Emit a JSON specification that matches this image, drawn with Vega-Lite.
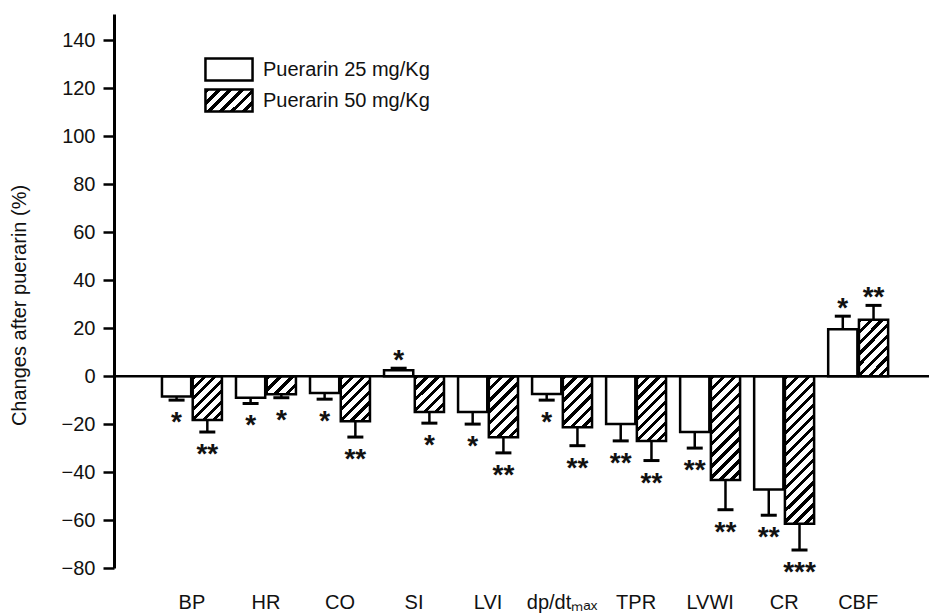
{
"$schema": "https://vega.github.io/schema/vega-lite/v6.json",
"width": 815, "height": 554,
"autosize": {"type": "none"},
"padding": {"left": 114, "top": 14, "right": 0, "bottom": 45},
"background": "white",
"config": {
  "view": {"stroke": null},
  "font": "Liberation Sans",
  "axis": {"labelFont": "Liberation Sans", "labelColor": "#111", "titleFont": "Liberation Sans", "titleFontSize": 20, "titleFontWeight": "normal", "titleColor": "#111", "grid": false},
  "axisY": {"domainColor": "#000", "domainWidth": 3, "tickColor": "#000", "tickWidth": 2.5, "tickSize": 11, "labelPadding": 8, "labelFontSize": 20, "titleX": -85, "titleY": 291},
  "axisX": {"domain": false, "ticks": false, "tickSize": 0, "labelAngle": 0, "labelPadding": 24, "labelBaseline": "top", "labelFontSize": 20},
  "legend": {"symbolType": "M-2.14,-1H2.14V1H-2.14Z", "symbolSize": 484, "symbolStrokeColor": "#000", "symbolStrokeWidth": 2.5, "labelFont": "Liberation Sans", "labelFontSize": 20, "labelColor": "#111", "labelOffset": 21.5, "labelLimit": 400, "padding": 0}
},
"data": {"values": [
{"cat":"BP","dose":"Puerarin 25 mg/Kg","value":-8.5,"err":-10,"sig":"*"},
{"cat":"BP","dose":"Puerarin 50 mg/Kg","value":-18.3,"err":-23.3,"sig":"**"},
{"cat":"HR","dose":"Puerarin 25 mg/Kg","value":-9,"err":-11.4,"sig":"*"},
{"cat":"HR","dose":"Puerarin 50 mg/Kg","value":-7.5,"err":-9,"sig":"*"},
{"cat":"CO","dose":"Puerarin 25 mg/Kg","value":-7,"err":-9.6,"sig":"*"},
{"cat":"CO","dose":"Puerarin 50 mg/Kg","value":-18.8,"err":-25.4,"sig":"**"},
{"cat":"SI","dose":"Puerarin 25 mg/Kg","value":2.5,"err":3.3,"sig":"*"},
{"cat":"SI","dose":"Puerarin 50 mg/Kg","value":-15,"err":-19.6,"sig":"*"},
{"cat":"LVI","dose":"Puerarin 25 mg/Kg","value":-15,"err":-20,"sig":"*"},
{"cat":"LVI","dose":"Puerarin 50 mg/Kg","value":-25.5,"err":-32,"sig":"**"},
{"cat":"dp/dtₘₐₓ","dose":"Puerarin 25 mg/Kg","value":-7.4,"err":-10,"sig":"*"},
{"cat":"dp/dtₘₐₓ","dose":"Puerarin 50 mg/Kg","value":-21.3,"err":-29,"sig":"**"},
{"cat":"TPR","dose":"Puerarin 25 mg/Kg","value":-20,"err":-27,"sig":"**"},
{"cat":"TPR","dose":"Puerarin 50 mg/Kg","value":-27,"err":-35.2,"sig":"**"},
{"cat":"LVWI","dose":"Puerarin 25 mg/Kg","value":-23.3,"err":-30,"sig":"**"},
{"cat":"LVWI","dose":"Puerarin 50 mg/Kg","value":-43.3,"err":-55.7,"sig":"**"},
{"cat":"CR","dose":"Puerarin 25 mg/Kg","value":-47.3,"err":-58,"sig":"**"},
{"cat":"CR","dose":"Puerarin 50 mg/Kg","value":-61.5,"err":-72.5,"sig":"***"},
{"cat":"CBF","dose":"Puerarin 25 mg/Kg","value":19.5,"err":25,"sig":"*"},
{"cat":"CBF","dose":"Puerarin 50 mg/Kg","value":23.5,"err":29.5,"sig":"**"}
]},
"layer": [
{
  "mark": {"type": "bar", "stroke": "#000", "strokeWidth": 2.5},
  "encoding": {
    "x": {"field": "cat", "type": "nominal", "sort": null, "title": null,
      "scale": {"paddingInner": 0.19, "paddingOuter": 0.6, "align": 0.54},
      "axis": {"title": null, "labelAngle": 0, "labelFontSize": 20}},
    "xOffset": {"field": "dose", "type": "nominal", "sort": null, "scale": {"paddingInner": 0.05, "paddingOuter": 0}},
    "y": {"field": "value", "type": "quantitative", "title": "Changes after puerarin (%)", "scale": {"domain": [-80, 151], "nice": false},
      "axis": {"title": "Changes after puerarin (%)", "labelFontSize": 20, "values": [-80,-60,-40,-20,0,20,40,60,80,100,120,140]}},
    "stroke": {"field": "dose", "type": "nominal", "sort": null,
      "scale": {"domain": ["Puerarin 50 mg/Kg", "Puerarin 25 mg/Kg"], "range": ["#000", "#000"]},
      "legend": {"title": null, "orient": "none", "legendX": 102.5, "legendY": 74, "values": ["Puerarin 50 mg/Kg"]}},
    "fill": {"field": "dose", "type": "nominal", "sort": null,
      "scale": {"domain": ["Puerarin 25 mg/Kg", "Puerarin 50 mg/Kg"], "range": ["white", "black"]},
      "legend": {"title": null, "orient": "none", "legendX": 102.5, "legendY": 43, "values": ["Puerarin 25 mg/Kg"]},
      "condition": [
        {"test": "datum.value==='Puerarin 50 mg/Kg'", "value": {"gradient":"linear","x1":0,"y1":0,"x2":1.204,"y2":0.564,"stops":[{"offset":0,"color":"#000"},{"offset":0.0667,"color":"#000"},{"offset":0.0667,"color":"#fff"},{"offset":0.1667,"color":"#fff"},{"offset":0.1667,"color":"#000"},{"offset":0.2333,"color":"#000"},{"offset":0.2333,"color":"#fff"},{"offset":0.3333,"color":"#fff"},{"offset":0.3333,"color":"#000"},{"offset":0.4,"color":"#000"},{"offset":0.4,"color":"#fff"},{"offset":0.5,"color":"#fff"},{"offset":0.5,"color":"#000"},{"offset":0.5667,"color":"#000"},{"offset":0.5667,"color":"#fff"},{"offset":0.6667,"color":"#fff"},{"offset":0.6667,"color":"#000"},{"offset":0.7333,"color":"#000"},{"offset":0.7333,"color":"#fff"},{"offset":0.8333,"color":"#fff"},{"offset":0.8333,"color":"#000"},{"offset":0.9,"color":"#000"},{"offset":0.9,"color":"#fff"},{"offset":1,"color":"#fff"}]}},
        {"test": "datum.dose==='Puerarin 50 mg/Kg'&&datum.cat==='BP'", "value": {"gradient":"linear","x1":0,"y1":0,"x2":0.768,"y2":1.155,"stops":[{"offset":0,"color":"#000"},{"offset":0.0571,"color":"#000"},{"offset":0.0571,"color":"#fff"},{"offset":0.1429,"color":"#fff"},{"offset":0.1429,"color":"#000"},{"offset":0.2,"color":"#000"},{"offset":0.2,"color":"#fff"},{"offset":0.2857,"color":"#fff"},{"offset":0.2857,"color":"#000"},{"offset":0.3429,"color":"#000"},{"offset":0.3429,"color":"#fff"},{"offset":0.4286,"color":"#fff"},{"offset":0.4286,"color":"#000"},{"offset":0.4857,"color":"#000"},{"offset":0.4857,"color":"#fff"},{"offset":0.5714,"color":"#fff"},{"offset":0.5714,"color":"#000"},{"offset":0.6286,"color":"#000"},{"offset":0.6286,"color":"#fff"},{"offset":0.7143,"color":"#fff"},{"offset":0.7143,"color":"#000"},{"offset":0.7714,"color":"#000"},{"offset":0.7714,"color":"#fff"},{"offset":0.8571,"color":"#fff"},{"offset":0.8571,"color":"#000"},{"offset":0.9143,"color":"#000"},{"offset":0.9143,"color":"#fff"},{"offset":1,"color":"#fff"}]}},
        {"test": "datum.dose==='Puerarin 50 mg/Kg'&&datum.cat==='HR'", "value": {"gradient":"linear","x1":0,"y1":0,"x2":1.171,"y2":0.722,"stops":[{"offset":0,"color":"#000"},{"offset":0.1,"color":"#000"},{"offset":0.1,"color":"#fff"},{"offset":0.25,"color":"#fff"},{"offset":0.25,"color":"#000"},{"offset":0.35,"color":"#000"},{"offset":0.35,"color":"#fff"},{"offset":0.5,"color":"#fff"},{"offset":0.5,"color":"#000"},{"offset":0.6,"color":"#000"},{"offset":0.6,"color":"#fff"},{"offset":0.75,"color":"#fff"},{"offset":0.75,"color":"#000"},{"offset":0.85,"color":"#000"},{"offset":0.85,"color":"#fff"},{"offset":1,"color":"#fff"}]}},
        {"test": "datum.dose==='Puerarin 50 mg/Kg'&&datum.cat==='CO'", "value": {"gradient":"linear","x1":0,"y1":0,"x2":0.752,"y2":1.161,"stops":[{"offset":0,"color":"#000"},{"offset":0.0571,"color":"#000"},{"offset":0.0571,"color":"#fff"},{"offset":0.1429,"color":"#fff"},{"offset":0.1429,"color":"#000"},{"offset":0.2,"color":"#000"},{"offset":0.2,"color":"#fff"},{"offset":0.2857,"color":"#fff"},{"offset":0.2857,"color":"#000"},{"offset":0.3429,"color":"#000"},{"offset":0.3429,"color":"#fff"},{"offset":0.4286,"color":"#fff"},{"offset":0.4286,"color":"#000"},{"offset":0.4857,"color":"#000"},{"offset":0.4857,"color":"#fff"},{"offset":0.5714,"color":"#fff"},{"offset":0.5714,"color":"#000"},{"offset":0.6286,"color":"#000"},{"offset":0.6286,"color":"#fff"},{"offset":0.7143,"color":"#fff"},{"offset":0.7143,"color":"#000"},{"offset":0.7714,"color":"#000"},{"offset":0.7714,"color":"#fff"},{"offset":0.8571,"color":"#fff"},{"offset":0.8571,"color":"#000"},{"offset":0.9143,"color":"#000"},{"offset":0.9143,"color":"#fff"},{"offset":1,"color":"#fff"}]}},
        {"test": "datum.dose==='Puerarin 50 mg/Kg'&&datum.cat==='SI'", "value": {"gradient":"linear","x1":0,"y1":0,"x2":0.886,"y2":1.093,"stops":[{"offset":0,"color":"#000"},{"offset":0.0667,"color":"#000"},{"offset":0.0667,"color":"#fff"},{"offset":0.1667,"color":"#fff"},{"offset":0.1667,"color":"#000"},{"offset":0.2333,"color":"#000"},{"offset":0.2333,"color":"#fff"},{"offset":0.3333,"color":"#fff"},{"offset":0.3333,"color":"#000"},{"offset":0.4,"color":"#000"},{"offset":0.4,"color":"#fff"},{"offset":0.5,"color":"#fff"},{"offset":0.5,"color":"#000"},{"offset":0.5667,"color":"#000"},{"offset":0.5667,"color":"#fff"},{"offset":0.6667,"color":"#fff"},{"offset":0.6667,"color":"#000"},{"offset":0.7333,"color":"#000"},{"offset":0.7333,"color":"#fff"},{"offset":0.8333,"color":"#fff"},{"offset":0.8333,"color":"#000"},{"offset":0.9,"color":"#000"},{"offset":0.9,"color":"#fff"},{"offset":1,"color":"#fff"}]}},
        {"test": "datum.dose==='Puerarin 50 mg/Kg'&&datum.cat==='LVI'", "value": {"gradient":"linear","x1":0,"y1":0,"x2":0.575,"y2":1.203,"stops":[{"offset":0,"color":"#000"},{"offset":0.05,"color":"#000"},{"offset":0.05,"color":"#fff"},{"offset":0.125,"color":"#fff"},{"offset":0.125,"color":"#000"},{"offset":0.175,"color":"#000"},{"offset":0.175,"color":"#fff"},{"offset":0.25,"color":"#fff"},{"offset":0.25,"color":"#000"},{"offset":0.3,"color":"#000"},{"offset":0.3,"color":"#fff"},{"offset":0.375,"color":"#fff"},{"offset":0.375,"color":"#000"},{"offset":0.425,"color":"#000"},{"offset":0.425,"color":"#fff"},{"offset":0.5,"color":"#fff"},{"offset":0.5,"color":"#000"},{"offset":0.55,"color":"#000"},{"offset":0.55,"color":"#fff"},{"offset":0.625,"color":"#fff"},{"offset":0.625,"color":"#000"},{"offset":0.675,"color":"#000"},{"offset":0.675,"color":"#fff"},{"offset":0.75,"color":"#fff"},{"offset":0.75,"color":"#000"},{"offset":0.8,"color":"#000"},{"offset":0.8,"color":"#fff"},{"offset":0.875,"color":"#fff"},{"offset":0.875,"color":"#000"},{"offset":0.925,"color":"#000"},{"offset":0.925,"color":"#fff"},{"offset":1,"color":"#fff"}]}},
        {"test": "datum.dose==='Puerarin 50 mg/Kg'&&datum.cat[0]==='d'", "value": {"gradient":"linear","x1":0,"y1":0,"x2":0.677,"y2":1.185,"stops":[{"offset":0,"color":"#000"},{"offset":0.0571,"color":"#000"},{"offset":0.0571,"color":"#fff"},{"offset":0.1429,"color":"#fff"},{"offset":0.1429,"color":"#000"},{"offset":0.2,"color":"#000"},{"offset":0.2,"color":"#fff"},{"offset":0.2857,"color":"#fff"},{"offset":0.2857,"color":"#000"},{"offset":0.3429,"color":"#000"},{"offset":0.3429,"color":"#fff"},{"offset":0.4286,"color":"#fff"},{"offset":0.4286,"color":"#000"},{"offset":0.4857,"color":"#000"},{"offset":0.4857,"color":"#fff"},{"offset":0.5714,"color":"#fff"},{"offset":0.5714,"color":"#000"},{"offset":0.6286,"color":"#000"},{"offset":0.6286,"color":"#fff"},{"offset":0.7143,"color":"#fff"},{"offset":0.7143,"color":"#000"},{"offset":0.7714,"color":"#000"},{"offset":0.7714,"color":"#fff"},{"offset":0.8571,"color":"#fff"},{"offset":0.8571,"color":"#000"},{"offset":0.9143,"color":"#000"},{"offset":0.9143,"color":"#fff"},{"offset":1,"color":"#fff"}]}},
        {"test": "datum.dose==='Puerarin 50 mg/Kg'&&datum.cat==='TPR'", "value": {"gradient":"linear","x1":0,"y1":0,"x2":0.544,"y2":1.206,"stops":[{"offset":0,"color":"#000"},{"offset":0.0444,"color":"#000"},{"offset":0.0444,"color":"#fff"},{"offset":0.1111,"color":"#fff"},{"offset":0.1111,"color":"#000"},{"offset":0.1556,"color":"#000"},{"offset":0.1556,"color":"#fff"},{"offset":0.2222,"color":"#fff"},{"offset":0.2222,"color":"#000"},{"offset":0.2667,"color":"#000"},{"offset":0.2667,"color":"#fff"},{"offset":0.3333,"color":"#fff"},{"offset":0.3333,"color":"#000"},{"offset":0.3778,"color":"#000"},{"offset":0.3778,"color":"#fff"},{"offset":0.4444,"color":"#fff"},{"offset":0.4444,"color":"#000"},{"offset":0.4889,"color":"#000"},{"offset":0.4889,"color":"#fff"},{"offset":0.5556,"color":"#fff"},{"offset":0.5556,"color":"#000"},{"offset":0.6,"color":"#000"},{"offset":0.6,"color":"#fff"},{"offset":0.6667,"color":"#fff"},{"offset":0.6667,"color":"#000"},{"offset":0.7111,"color":"#000"},{"offset":0.7111,"color":"#fff"},{"offset":0.7778,"color":"#fff"},{"offset":0.7778,"color":"#000"},{"offset":0.8222,"color":"#000"},{"offset":0.8222,"color":"#fff"},{"offset":0.8889,"color":"#fff"},{"offset":0.8889,"color":"#000"},{"offset":0.9333,"color":"#000"},{"offset":0.9333,"color":"#fff"},{"offset":1,"color":"#fff"}]}},
        {"test": "datum.dose==='Puerarin 50 mg/Kg'&&datum.cat==='LVWI'", "value": {"gradient":"linear","x1":0,"y1":0,"x2":0.334,"y2":1.187,"stops":[{"offset":0,"color":"#000"},{"offset":0.0333,"color":"#000"},{"offset":0.0333,"color":"#fff"},{"offset":0.0833,"color":"#fff"},{"offset":0.0833,"color":"#000"},{"offset":0.1167,"color":"#000"},{"offset":0.1167,"color":"#fff"},{"offset":0.1667,"color":"#fff"},{"offset":0.1667,"color":"#000"},{"offset":0.2,"color":"#000"},{"offset":0.2,"color":"#fff"},{"offset":0.25,"color":"#fff"},{"offset":0.25,"color":"#000"},{"offset":0.2833,"color":"#000"},{"offset":0.2833,"color":"#fff"},{"offset":0.3333,"color":"#fff"},{"offset":0.3333,"color":"#000"},{"offset":0.3667,"color":"#000"},{"offset":0.3667,"color":"#fff"},{"offset":0.4167,"color":"#fff"},{"offset":0.4167,"color":"#000"},{"offset":0.45,"color":"#000"},{"offset":0.45,"color":"#fff"},{"offset":0.5,"color":"#fff"},{"offset":0.5,"color":"#000"},{"offset":0.5333,"color":"#000"},{"offset":0.5333,"color":"#fff"},{"offset":0.5833,"color":"#fff"},{"offset":0.5833,"color":"#000"},{"offset":0.6167,"color":"#000"},{"offset":0.6167,"color":"#fff"},{"offset":0.6667,"color":"#fff"},{"offset":0.6667,"color":"#000"},{"offset":0.7,"color":"#000"},{"offset":0.7,"color":"#fff"},{"offset":0.75,"color":"#fff"},{"offset":0.75,"color":"#000"},{"offset":0.7833,"color":"#000"},{"offset":0.7833,"color":"#fff"},{"offset":0.8333,"color":"#fff"},{"offset":0.8333,"color":"#000"},{"offset":0.8667,"color":"#000"},{"offset":0.8667,"color":"#fff"},{"offset":0.9167,"color":"#fff"},{"offset":0.9167,"color":"#000"},{"offset":0.95,"color":"#000"},{"offset":0.95,"color":"#fff"},{"offset":1,"color":"#fff"}]}},
        {"test": "datum.dose==='Puerarin 50 mg/Kg'&&datum.cat==='CR'", "value": {"gradient":"linear","x1":0,"y1":0,"x2":0.228,"y2":1.153,"stops":[{"offset":0,"color":"#000"},{"offset":0.025,"color":"#000"},{"offset":0.025,"color":"#fff"},{"offset":0.0625,"color":"#fff"},{"offset":0.0625,"color":"#000"},{"offset":0.0875,"color":"#000"},{"offset":0.0875,"color":"#fff"},{"offset":0.125,"color":"#fff"},{"offset":0.125,"color":"#000"},{"offset":0.15,"color":"#000"},{"offset":0.15,"color":"#fff"},{"offset":0.1875,"color":"#fff"},{"offset":0.1875,"color":"#000"},{"offset":0.2125,"color":"#000"},{"offset":0.2125,"color":"#fff"},{"offset":0.25,"color":"#fff"},{"offset":0.25,"color":"#000"},{"offset":0.275,"color":"#000"},{"offset":0.275,"color":"#fff"},{"offset":0.3125,"color":"#fff"},{"offset":0.3125,"color":"#000"},{"offset":0.3375,"color":"#000"},{"offset":0.3375,"color":"#fff"},{"offset":0.375,"color":"#fff"},{"offset":0.375,"color":"#000"},{"offset":0.4,"color":"#000"},{"offset":0.4,"color":"#fff"},{"offset":0.4375,"color":"#fff"},{"offset":0.4375,"color":"#000"},{"offset":0.4625,"color":"#000"},{"offset":0.4625,"color":"#fff"},{"offset":0.5,"color":"#fff"},{"offset":0.5,"color":"#000"},{"offset":0.525,"color":"#000"},{"offset":0.525,"color":"#fff"},{"offset":0.5625,"color":"#fff"},{"offset":0.5625,"color":"#000"},{"offset":0.5875,"color":"#000"},{"offset":0.5875,"color":"#fff"},{"offset":0.625,"color":"#fff"},{"offset":0.625,"color":"#000"},{"offset":0.65,"color":"#000"},{"offset":0.65,"color":"#fff"},{"offset":0.6875,"color":"#fff"},{"offset":0.6875,"color":"#000"},{"offset":0.7125,"color":"#000"},{"offset":0.7125,"color":"#fff"},{"offset":0.75,"color":"#fff"},{"offset":0.75,"color":"#000"},{"offset":0.775,"color":"#000"},{"offset":0.775,"color":"#fff"},{"offset":0.8125,"color":"#fff"},{"offset":0.8125,"color":"#000"},{"offset":0.8375,"color":"#000"},{"offset":0.8375,"color":"#fff"},{"offset":0.875,"color":"#fff"},{"offset":0.875,"color":"#000"},{"offset":0.9,"color":"#000"},{"offset":0.9,"color":"#fff"},{"offset":0.9375,"color":"#fff"},{"offset":0.9375,"color":"#000"},{"offset":0.9625,"color":"#000"},{"offset":0.9625,"color":"#fff"},{"offset":1,"color":"#fff"}]}},
        {"test": "datum.dose==='Puerarin 50 mg/Kg'&&datum.cat==='CBF'", "value": {"gradient":"linear","x1":0,"y1":0,"x2":0.632,"y2":1.195,"stops":[{"offset":0,"color":"#000"},{"offset":0.05,"color":"#000"},{"offset":0.05,"color":"#fff"},{"offset":0.125,"color":"#fff"},{"offset":0.125,"color":"#000"},{"offset":0.175,"color":"#000"},{"offset":0.175,"color":"#fff"},{"offset":0.25,"color":"#fff"},{"offset":0.25,"color":"#000"},{"offset":0.3,"color":"#000"},{"offset":0.3,"color":"#fff"},{"offset":0.375,"color":"#fff"},{"offset":0.375,"color":"#000"},{"offset":0.425,"color":"#000"},{"offset":0.425,"color":"#fff"},{"offset":0.5,"color":"#fff"},{"offset":0.5,"color":"#000"},{"offset":0.55,"color":"#000"},{"offset":0.55,"color":"#fff"},{"offset":0.625,"color":"#fff"},{"offset":0.625,"color":"#000"},{"offset":0.675,"color":"#000"},{"offset":0.675,"color":"#fff"},{"offset":0.75,"color":"#fff"},{"offset":0.75,"color":"#000"},{"offset":0.8,"color":"#000"},{"offset":0.8,"color":"#fff"},{"offset":0.875,"color":"#fff"},{"offset":0.875,"color":"#000"},{"offset":0.925,"color":"#000"},{"offset":0.925,"color":"#fff"},{"offset":1,"color":"#fff"}]}}
      ]
    }
  }
},
{
  "data": {"values": [{"zero": 0}]},
  "mark": {"type": "rule", "color": "#000", "strokeWidth": 2.5},
  "encoding": {"y": {"field": "zero", "type": "quantitative", "title": "Changes after puerarin (%)", "scale": {"domain": [-80, 151], "nice": false}}}
},
{
  "mark": {"type": "rule", "color": "#000", "strokeWidth": 2.5},
  "encoding": {
    "x": {"field": "cat", "type": "nominal", "sort": null, "title": null, "scale": {"paddingInner": 0.19, "paddingOuter": 0.6, "align": 0.54}},
    "xOffset": {"field": "dose", "type": "nominal", "sort": null, "scale": {"paddingInner": 0.05, "paddingOuter": 0}},
    "y": {"field": "value", "type": "quantitative", "title": "Changes after puerarin (%)", "scale": {"domain": [-80, 151], "nice": false}},
    "y2": {"field": "err"}
  }
},
{
  "mark": {"type": "tick", "color": "#000", "thickness": 3, "size": 16, "opacity": 1},
  "encoding": {
    "x": {"field": "cat", "type": "nominal", "sort": null, "title": null, "scale": {"paddingInner": 0.19, "paddingOuter": 0.6, "align": 0.54}},
    "xOffset": {"field": "dose", "type": "nominal", "sort": null, "scale": {"paddingInner": 0.05, "paddingOuter": 0}},
    "y": {"field": "err", "type": "quantitative", "title": "Changes after puerarin (%)", "scale": {"domain": [-80, 151], "nice": false}}
  }
},
{
  "transform": [{"filter": "datum.value < 0"}],
  "mark": {"type": "text", "font": "Liberation Sans", "fontWeight": "bold", "fontSize": 28, "baseline": "alphabetic", "dy": 31, "color": "#111"},
  "encoding": {
    "x": {"field": "cat", "type": "nominal", "sort": null, "title": null, "scale": {"paddingInner": 0.19, "paddingOuter": 0.6, "align": 0.54}},
    "xOffset": {"field": "dose", "type": "nominal", "sort": null, "scale": {"paddingInner": 0.05, "paddingOuter": 0}},
    "y": {"field": "err", "type": "quantitative", "title": "Changes after puerarin (%)", "scale": {"domain": [-80, 151], "nice": false}},
    "text": {"field": "sig"}
  }
},
{
  "transform": [{"filter": "datum.value > 0"}],
  "mark": {"type": "text", "font": "Liberation Sans", "fontWeight": "bold", "fontSize": 28, "baseline": "alphabetic", "dy": 1, "color": "#111"},
  "encoding": {
    "x": {"field": "cat", "type": "nominal", "sort": null, "title": null, "scale": {"paddingInner": 0.19, "paddingOuter": 0.6, "align": 0.54}},
    "xOffset": {"field": "dose", "type": "nominal", "sort": null, "scale": {"paddingInner": 0.05, "paddingOuter": 0}},
    "y": {"field": "err", "type": "quantitative", "title": "Changes after puerarin (%)", "scale": {"domain": [-80, 151], "nice": false}},
    "text": {"field": "sig"}
  }
}
]
}
